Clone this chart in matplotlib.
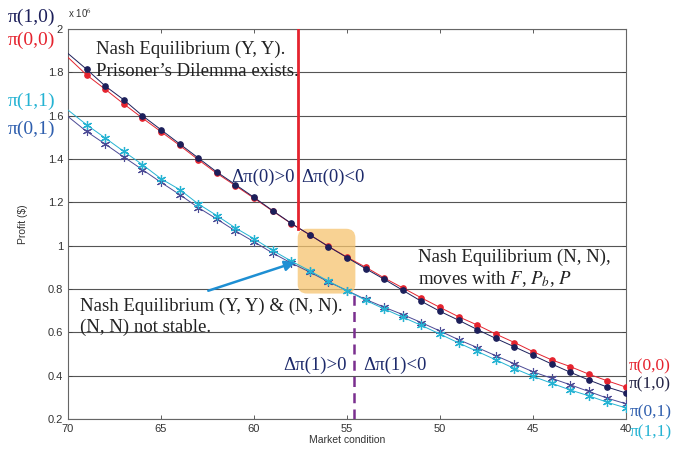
import matplotlib
matplotlib.use("Agg")
import matplotlib.pyplot as plt
from matplotlib.patches import FancyBboxPatch
import numpy as np

# ---- data (profit in units of 1e6) ----
market = [70, 69, 68, 67, 66, 65, 64, 63, 62, 61, 60, 59, 58, 57, 56, 55,
          54, 53, 52, 51, 50, 49, 48, 47, 46, 45, 44, 43, 42, 41, 40]
pi_10 = [1.887, 1.814, 1.737, 1.673, 1.600, 1.535, 1.470, 1.405, 1.340, 1.282,
         1.223, 1.162, 1.103, 1.050, 0.996, 0.945, 0.894, 0.845, 0.794, 0.743,
         0.697, 0.656, 0.613, 0.572, 0.533, 0.494, 0.454, 0.416, 0.380, 0.347, 0.320]
pi_00 = [1.869, 1.788, 1.722, 1.654, 1.589, 1.526, 1.463, 1.397, 1.334, 1.277,
         1.219, 1.160, 1.102, 1.050, 0.997, 0.947, 0.901, 0.851, 0.805, 0.759,
         0.715, 0.672, 0.634, 0.592, 0.553, 0.511, 0.473, 0.442, 0.407, 0.376, 0.347]
pi_11 = [1.626, 1.558, 1.497, 1.435, 1.374, 1.309, 1.259, 1.193, 1.139, 1.082,
         1.032, 0.978, 0.929, 0.884, 0.836, 0.792, 0.748, 0.708, 0.670, 0.632,
         0.592, 0.551, 0.512, 0.473, 0.433, 0.397, 0.365, 0.334, 0.307, 0.277, 0.251]
pi_01 = [1.596, 1.527, 1.469, 1.409, 1.351, 1.292, 1.236, 1.176, 1.123, 1.068,
         1.018, 0.966, 0.920, 0.878, 0.833, 0.793, 0.752, 0.716, 0.682, 0.645,
         0.606, 0.566, 0.530, 0.492, 0.455, 0.418, 0.388, 0.358, 0.327, 0.296, 0.270]

x_ticks = [70, 65, 60, 55, 50, 45, 40]
y_ticks = [0.2, 0.4, 0.6, 0.8, 1.0, 1.2, 1.4, 1.6, 1.8, 2.0]
y_tick_labels = ["0.2", "0.4", "0.6", "0.8", "1", "1.2", "1.4", "1.6", "1.8", "2"]

threshold0 = 57.62   # red vertical line
threshold1 = 54.63   # purple dashed line
box_x = (54.55, 57.65)
box_y = (0.779, 1.078)

RED = "#e5232e"
NAVY = "#1c1f5a"
CYAN = "#25b3d3"
BLUE = "#2f5fae"
PURP = "#4b4a95"
TXT = "#1d2a6b"

plt.rcParams["mathtext.fontset"] = "stix"
serif = ["Liberation Serif", "DejaVu Serif"]
sans = ["Liberation Sans", "DejaVu Sans"]

fig = plt.figure(figsize=(6.75, 4.5), dpi=100)
ax = fig.add_axes([68 / 675, 31 / 450, (626 - 68) / 675, (419 - 29) / 450])

ax.set_xlim(70, 40)
ax.set_ylim(0.2, 2.0)

# highlight box
box = FancyBboxPatch((box_x[0], box_y[0]), box_x[1] - box_x[0], box_y[1] - box_y[0],
                     boxstyle="round,pad=0,rounding_size=0.5",
                     mutation_aspect=18.5 / 217.5,
                     facecolor="#f6c46f", edgecolor="none", alpha=0.75, zorder=1)
ax.add_patch(box)

for y in y_ticks:
    ax.axhline(y, color="#555555", lw=0.8, zorder=0.5)

mk = slice(1, None)
ax.plot(market, pi_10, color=NAVY, lw=0.7, marker="o", ms=3.8, markevery=mk, zorder=3)
ax.plot(market, pi_00, color=RED, lw=0.7, marker="o", ms=3.8, markevery=mk, zorder=2.9)
ax.plot(market, pi_11, color=CYAN, lw=0.7, marker=(6, 2, 0), ms=6.5, mew=0.9,
        markevery=mk, zorder=3)
ax.plot(market, pi_01, color=PURP, lw=0.7, marker=(6, 2, 0), ms=6.5, mew=0.8,
        markevery=mk, zorder=2.9)

# threshold lines
ax.plot([threshold0, threshold0], [1.075, 2.0], color=RED, lw=2.0, zorder=4)
ax.plot([threshold1, threshold1], [0.2, 0.795], color="#7a2f8f", lw=1.8,
        ls=(0, (4, 2.5)), zorder=4)

# arrow
ax.annotate("", xy=(57.65, 0.927), xytext=(62.6, 0.788),
            arrowprops=dict(arrowstyle="-|>,head_length=0.6,head_width=0.3",
                            color="#1e8fd3", lw=1.8), zorder=5)

ax.set_xticks(x_ticks)
ax.set_xticklabels([str(v) for v in x_ticks])
ax.set_yticks(y_ticks)
ax.set_yticklabels(y_tick_labels)
ax.tick_params(direction="in", length=3, width=0.6, top=True, right=True,
               labelsize=8, colors="#444444", labelcolor="#333333")
for lab in ax.get_xticklabels() + ax.get_yticklabels():
    lab.set_family(sans)
for s in ax.spines.values():
    s.set_color("#666666")
    s.set_linewidth(0.8)

ax.set_xlabel("Market condition", fontsize=7.5, family=sans, color="#333333", labelpad=1)
ax.set_ylabel("Profit (\\$)", fontsize=7.5, family=sans, color="#333333", labelpad=14)
fig.text(68 / 675, 1 - 13 / 450, r"x 10$^{6}$", fontsize=7, family=sans,
         color="#333333", ha="left", va="center")

fs = 13.5
def ptext(xp, yp, s, color="#222222", ha="left", size=fs):
    fig.text(xp / 675, 1 - yp / 450, s, fontsize=size, family=serif, color=color,
             ha=ha, va="center")

ptext(96, 49, "Nash Equilibrium (Y, Y).")
ptext(96, 71, "Prisoner’s Dilemma exists.")
ptext(231, 177, "Δπ(0)>0", color=TXT)
ptext(301, 177, "Δπ(0)<0", color=TXT)
ptext(418, 257, "Nash Equilibrium (N, N),")
ptext(418, 279, "moves with $F$, $P_b$, $P$")
ptext(80, 306, "Nash Equilibrium (Y, Y) & (N, N).")
ptext(80, 327, "(N, N) not stable.")
ptext(283, 365, "Δπ(1)>0", color=TXT)
ptext(363, 365, "Δπ(1)<0", color=TXT)

# series labels left
ls = 14
ptext(8, 17, "π(1,0)", color=NAVY, size=ls)
ptext(8, 40, "π(0,0)", color=RED, size=ls)
ptext(8, 101, "π(1,1)", color=CYAN, size=ls)
ptext(8, 129, "π(0,1)", color=BLUE, size=ls)
# series labels right
rs = 12.5
ptext(629, 366, "π(0,0)", color=RED, size=rs)
ptext(629, 384, "π(1,0)", color="#222244", size=rs)
ptext(630, 412, "π(0,1)", color=BLUE, size=rs)
ptext(630, 432, "π(1,1)", color=CYAN, size=rs)

fig.savefig("out.png", dpi=100)
